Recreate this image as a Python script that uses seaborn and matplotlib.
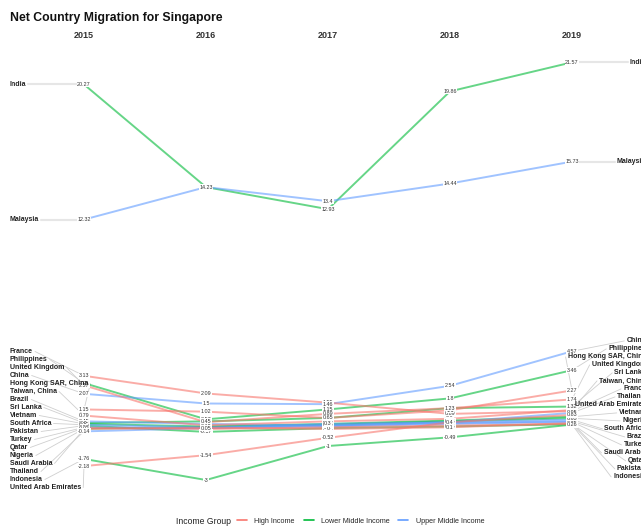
import numpy as np
import pandas as pd
import matplotlib
matplotlib.use('Agg')
import matplotlib.pyplot as plt
from matplotlib.lines import Line2D
import seaborn as sns

# Data
years = [2015, 2016, 2017, 2018, 2019]
countries = ['India', 'Malaysia', 'France', 'Philippines', 'United Kingdom', 'China',
             'Hong Kong SAR, China', 'Taiwan, China', 'Brazil', 'Sri Lanka', 'Vietnam',
             'South Africa', 'Pakistan', 'Turkey', 'Qatar', 'Nigeria', 'Saudi Arabia',
             'Thailand', 'Indonesia', 'United Arab Emirates']
income = ['Lower Middle Income', 'Upper Middle Income', 'High Income', 'Lower Middle Income',
          'High Income', 'Upper Middle Income', 'High Income', 'High Income',
          'Upper Middle Income', 'Lower Middle Income', 'Lower Middle Income',
          'Upper Middle Income', 'Lower Middle Income', 'Upper Middle Income', 'High Income',
          'Lower Middle Income', 'High Income', 'Upper Middle Income', 'Lower Middle Income',
          'High Income']
india = [20.27, 14.23, 12.93, 19.86, 21.57]
malaysia = [12.32, 14.23, 13.4, 14.44, 15.73]
france = [3.13, 2.09, 1.55, 0.89, 1.05]
philippines = [2.70, 0.57, 1.15, 1.80, 3.46]
uk = [2.57, 0.40, 0.89, 1.23, 1.74]
china = [2.07, 1.50, 1.46, 2.54, 4.57]
hong_kong = [1.15, 1.02, 0.65, 1.10, 2.27]
taiwan = [0.79, 0.22, 0.45, 0.60, 1.12]
brazil = [0.45, 0.30, 0.20, 0.35, 0.45]
sri_lanka = [0.35, 0.45, 0.65, 1.23, 1.32]
vietnam = [0.30, 0.15, 0.30, 0.50, 0.72]
south_africa = [0.25, 0.10, 0.20, 0.40, 0.55]
pakistan = [0.20, -0.17, 0.05, 0.15, 0.28]
turkey = [0.10, 0.05, 0.15, 0.30, 0.42]
qatar = [0.07, 0.00, 0.10, 0.20, 0.30]
nigeria = [0.02, 0.12, 0.25, 0.45, 0.63]
saudi_arabia = [0.00, 0.08, 0.00, 0.10, 0.35]
thailand = [-0.14, 0.05, 0.30, 0.40, 0.95]
indonesia = [-1.76, -3.00, -1.00, -0.49, 0.26]
uae = [-2.18, -1.54, -0.52, 0.40, 0.83]

series = [india, malaysia, france, philippines, uk, china, hong_kong, taiwan, brazil,
          sri_lanka, vietnam, south_africa, pakistan, turkey, qatar, nigeria,
          saudi_arabia, thailand, indonesia, uae]

rows = []
for c, g, vals in zip(countries, income, series):
    for y, v in zip(years, vals):
        rows.append({'Country': c, 'Income Group': g, 'Year': y, 'Value': v})
df = pd.DataFrame(rows)

palette = {'High Income': '#F8766D', 'Lower Middle Income': '#00BA38',
           'Upper Middle Income': '#619CFF'}

sns.set_style('white')
plt.rcParams['font.family'] = ['Liberation Sans', 'DejaVu Sans']

W, H = 641, 526
fig = plt.figure(figsize=(W / 100, H / 100), dpi=100)
# axes spans full width; y: pixel 50 -> top, pixel 500 -> bottom
ax = fig.add_axes([0, 1 - 500 / H, 1, 450 / H])

x0_px, step_px = 84, 122
ax.set_xlim(2015 - x0_px / step_px, 2015 + (W - x0_px) / step_px)
zero_px, unit_px = 429, 17
ax.set_ylim((zero_px - 500) / unit_px, (zero_px - 50) / unit_px)

sns.lineplot(data=df, x='Year', y='Value', hue='Income Group', units='Country',
             estimator=None, palette=palette, alpha=0.6, lw=1.4, legend=False,
             sort=False, ax=ax)


def fmt(v):
    s = f'{v:.2f}'.rstrip('0').rstrip('.')
    return '0' if s == '-0' else s


# value labels
for _, r in df.iterrows():
    ax.text(r['Year'], r['Value'], fmt(r['Value']), fontsize=3.9, color='#333333',
            ha='center', va='center', zorder=5,
            bbox=dict(boxstyle='square,pad=0.1', fc='white', ec='none'))


def repel(vals, gap, n_iter=400):
    order = np.argsort(vals)[::-1]
    pos = np.array(vals, dtype=float)[order]
    for _ in range(n_iter):
        for i in range(len(pos) - 1):
            d = pos[i] - pos[i + 1]
            if d < gap:
                shift = (gap - d) / 2
                pos[i] += shift
                pos[i + 1] -= shift
    out = np.empty_like(pos)
    out[order] = pos
    return out


gap = 8 / unit_px
left_vals = [s[0] for s in series]
right_vals = [s[-1] for s in series]
left_pos = repel(left_vals, gap)
right_pos = repel(right_vals, gap)

x_left = 2015 - (x0_px - 10) / step_px
x_right = 2015 + (646 - x0_px) / step_px

fig.canvas.draw()
renderer = fig.canvas.get_renderer()
inv = ax.transData.inverted()

for c, lv, lp, rv, rp in zip(countries, left_vals, left_pos, right_vals, right_pos):
    big = c in ('India', 'Malaysia')
    seg_c = '#e6e6e6' if big else '#cfcfcf'
    seg_w = 1.5 if big else 0.6
    t = ax.text(x_left, lp, c, fontsize=5, fontweight='bold', color='#222222',
                ha='left', va='center', zorder=6)
    bb = t.get_window_extent(renderer)
    xe = inv.transform((bb.x1 + 2, 0))[0]
    ax.plot([xe, 2015], [lp, lv], color=seg_c, lw=seg_w, zorder=1)

    t = ax.text(x_right, rp, c, fontsize=5, fontweight='bold', color='#222222',
                ha='right', va='center', zorder=6)
    bb = t.get_window_extent(renderer)
    xs = inv.transform((bb.x0 - 2, 0))[0]
    ax.plot([2019, xs], [rv, rp], color=seg_c, lw=seg_w, zorder=1)

ax.set_xticks(years)
ax.set_xticklabels([str(y) for y in years], fontsize=6.5, fontweight='bold', color='#333333')
ax.xaxis.tick_top()
ax.tick_params(axis='x', length=0, pad=7)
ax.set_yticks([])
ax.set_xlabel('')
ax.set_ylabel('')
for s in ax.spines.values():
    s.set_visible(False)

fig.text(10 / W, 1 - 18 / H, 'Net Country Migration for Singapore', fontsize=8.8,
         fontweight='bold', color='#111111', ha='left', va='center')

# legend
fig.text(176 / W, 1 - 521 / H, 'Income Group', fontsize=6.2, color='#222222',
         ha='left', va='center')
handles = [Line2D([0], [0], color=palette[k], lw=1.2) for k in palette]
fig.legend(handles, list(palette.keys()), ncol=3, loc='center left',
           bbox_to_anchor=(237 / W, 1 - 521 / H), frameon=False, fontsize=5.2,
           handlelength=1.4, handletextpad=1.0, columnspacing=1.2, borderpad=0,
           borderaxespad=0)

fig.savefig('out.png', dpi=100)
